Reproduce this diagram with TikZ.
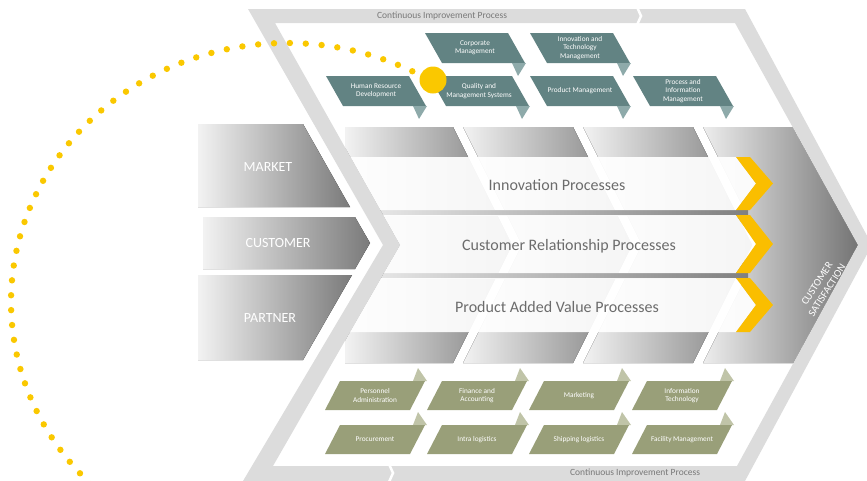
\documentclass[tikz,border=0pt]{standalone}
\usepackage{fontspec}
\setmainfont{Carlito}
\definecolor{bandgray}{RGB}{220,220,220}
\definecolor{tealc}{RGB}{98,131,131}
\definecolor{teallt}{RGB}{142,170,170}
\definecolor{olivec}{RGB}{153,159,121}
\definecolor{olivelt}{RGB}{192,196,168}
\definecolor{chevy}{RGB}{250,190,0}
\definecolor{doty}{RGB}{250,200,0}
\definecolor{rowtxt}{RGB}{108,108,108}
\definecolor{bandtxt}{RGB}{120,120,120}
\newcommand{\tealbox}[4]{%
  \fill[tealc] (#2,#3) -- ({#2+83},#3) -- ({#2+100},{#3+30}) -- ({#2+17},{#3+30}) -- cycle;
  \fill[teallt] ({#2+87},{#3+30}) -- ({#2+101},{#3+30}) -- ({#2+93},{#3+43}) -- cycle;
  \node[boxtext] (#1) at ({#2+50},{#3+15}) {#4};}
\newcommand{\olivebox}[4]{%
  \fill[olivelt] ({#2+73},#3) -- ({#2+87},#3) -- ({#2+78},{#3-13}) -- cycle;
  \fill[olivec] (#2,#3) -- ({#2+85},#3) -- ({#2+70},{#3+29}) -- ({#2-15},{#3+29}) -- cycle;
  \node[boxtext] (#1) at ({#2+35},{#3+14.5}) {#4};}
\begin{document}
\begin{tikzpicture}[x=1pt,y=-1pt,
  boxtext/.style={text=white, align=center, inner sep=0pt, font=\fontsize{7.3}{8.2}\selectfont},
  rowtext/.style={text=rowtxt, inner sep=0pt, font=\fontsize{16}{18}\selectfont},
  bandtext/.style={text=bandtxt, inner sep=0pt, font=\fontsize{9.5}{11}\selectfont},
  inarrow/.style={left color=black!5, right color=black!52},
  inlabel/.style={text=white, inner sep=0pt, font=\fontsize{14}{16}\selectfont},
  colshade/.style={left color=black!5, right color=black!52},
  rowfill/.style={fill=white, fill opacity=0.93},
  sepbar/.style={left color=black!8, right color=black!50},
  yelchev/.style={fill=chevy}]
\useasboundingbox (0,0) rectangle (867,480);
\clip (0,0) rectangle (867,480);

% ---------- inner area: columns, rows ----------
\begin{scope}
  \clip (275,23) -- (735,23) -- (858,245) -- (737,466) -- (273,466) -- (400,245) -- cycle;
  \fill[colshade] (345,127) -- (453,127) -- (512,245) -- (453,363) -- (345,363) -- cycle;
  \fill[colshade] (463,127) -- (573,127) -- (632,245) -- (573,363) -- (463,363) -- (522,245) -- cycle;
  \fill[colshade] (583,127) -- (693,127) -- (752,245) -- (693,363) -- (583,363) -- (642,245) -- cycle;
  \fill[left color=black!7, right color=black!55] (703,127) -- (793,127) -- (860,245) -- (795,363) -- (703,363) -- (762,245) -- cycle;
  % separators between rows
  \fill[sepbar] (360,210) rectangle (748,215);
  \fill[sepbar] (360,273) rectangle (748,278);
  % process rows
  \fill[rowfill] (345,157) -- (736,157) -- (756,183.5) -- (736,210) -- (345,210) -- cycle;
  \fill[rowfill] (345,215) -- (736,215) -- (756,244) -- (736,273) -- (345,273) -- cycle;
  \fill[rowfill] (345,278) -- (736,278) -- (756,305) -- (736,332) -- (345,332) -- cycle;
  \fill[yelchev] (736,157) -- (750,157) -- (773,183.5) -- (750,210) -- (736,210) -- (756,183.5) -- cycle;
  \fill[yelchev] (736,215) -- (750,215) -- (773,244) -- (750,273) -- (736,273) -- (756,244) -- cycle;
  \fill[yelchev] (736,278) -- (750,278) -- (773,305) -- (750,332) -- (736,332) -- (756,305) -- cycle;
\end{scope}
\node[rowtext] (inn) at (557,185) {Innovation Processes};
\node[rowtext] (crp) at (569,246) {Customer Relationship Processes};
\node[rowtext] (pav) at (557,307) {Product Added Value Processes};
\node[text=white, align=center, inner sep=0pt, rotate=57,
      font=\fontsize{10.5}{12}\selectfont] (cs) at (822,287) {CUSTOMER\\SATISFACTION};

% ---------- frame band ----------
\fill[bandgray, even odd rule]
  (248,9) -- (745,9) -- (872,245) -- (745,481) -- (243,481) -- (383,245) -- cycle
  (275,23) -- (735,23) -- (858,245) -- (737,466) -- (273,466) -- (400,245) -- cycle;
\draw[white, line width=2.5pt] (637,7) -- (641,16) -- (637,25);
\draw[white, line width=2.5pt] (389,464) -- (393,473) -- (389,482);
\node[bandtext] (cipt) at (442,16) {Continuous Improvement Process};
\node[bandtext] (cipb) at (635,473) {Continuous Improvement Process};

% ---------- input arrows ----------
\fill[inarrow] (198,124) -- (303,124) -- (350,207) -- (198,207) -- cycle;
\fill[inarrow] (203,217) -- (355,217) -- (370,243) -- (355,269) -- (203,269) -- cycle;
\fill[inarrow] (198,275) -- (352,275) -- (303,360) -- (198,360) -- cycle;
\node[inlabel] (mk) at (268,167) {MARKET};
\node[inlabel] (cu) at (278,243) {CUSTOMER};
\node[inlabel] (pa) at (270,318) {PARTNER};

% ---------- management boxes ----------
\tealbox{corp}{425}{33}{Corporate\\Management}
\tealbox{itm}{530}{33}{Innovation and\\Technology\\Management}
\tealbox{hrd}{326}{76}{Human Resource\\Development}
\tealbox{qms}{429}{76}{Quality and\\Management Systems}
\tealbox{pm}{530}{76}{Product Management}
\tealbox{pim}{633}{76}{Process and\\Information\\Management}

% ---------- support boxes ----------
\olivebox{padm}{340}{381}{Personnel\\Administration}
\olivebox{fin}{442}{381}{Finance and\\Accounting}
\olivebox{mkt}{544}{381}{Marketing}
\olivebox{it}{647}{381}{Information\\Technology}
\olivebox{proc}{340}{425}{Procurement}
\olivebox{intra}{442}{425}{Intra logistics}
\olivebox{ship}{544}{425}{Shipping logistics}
\olivebox{fac}{647}{425}{Facility Management}

% ---------- dotted arc ----------
\foreach \a in {63,66.3,...,232}
  \fill[doty] ({287+276*cos(\a)},{302-259*sin(\a)}) circle (3.2pt);
\fill[doty] (433,80) circle (13.5pt);
\end{tikzpicture}
\end{document}
